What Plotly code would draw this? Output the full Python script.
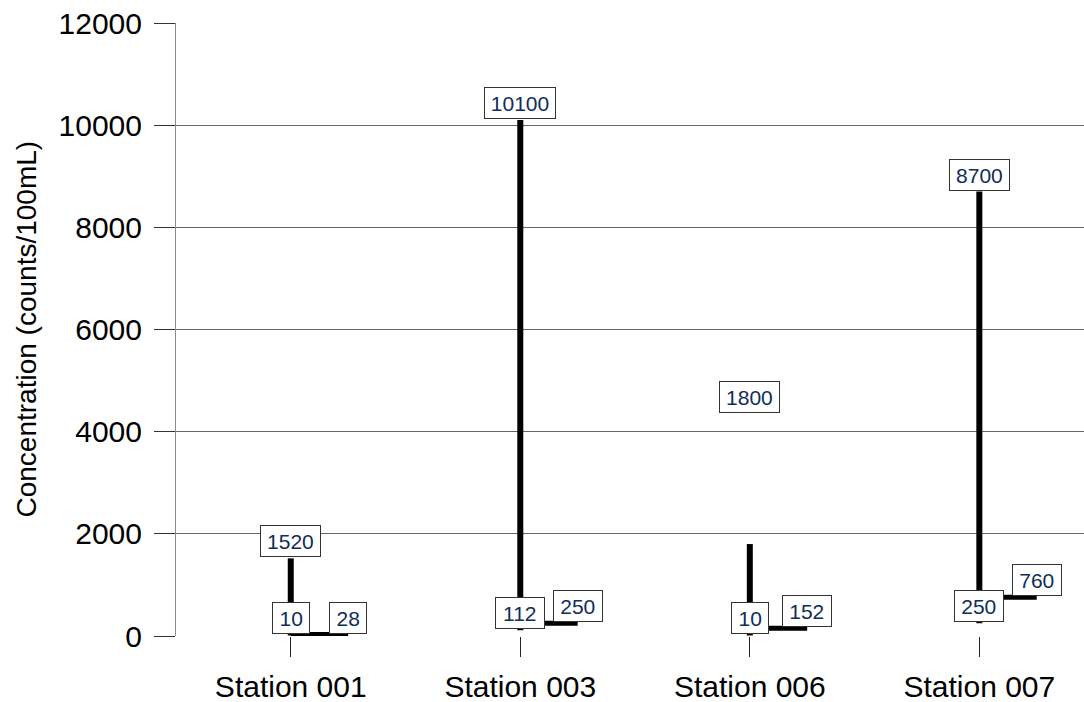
import plotly.graph_objects as go

# Bacteria concentration range per sampling station
stations = ["Station 001", "Station 003", "Station 006", "Station 007"]
max_vals = [1520, 10100, 1800, 8700]
min_vals = [10, 112, 10, 250]
geomean_vals = [28, 250, 152, 760]

# y-axis ticks
y_ticks = [0, 2000, 4000, 6000, 8000, 10000, 12000]
y_tick_text = ["0", "2000", "4000", "6000", "8000", "10000", "12000"]

# extra vertical offset (px) for individual max labels
max_label_shift = [0, 0, 130, 0]

FONT = "Arial, 'Liberation Sans', sans-serif"
LABEL_COLOR = "#0f2d5a"
TICK_OFFSET = 0.25  # length of the right-hand geomean tick, in category units

xs = list(range(len(stations)))

# vertical min-max bars
vx, vy = [], []
for i, lo, hi in zip(xs, min_vals, max_vals):
    vx += [i, i, None]
    vy += [lo, hi, None]

# horizontal geomean ticks
hx, hy = [], []
for i, g in zip(xs, geomean_vals):
    hx += [i, i + TICK_OFFSET, None]
    hy += [g, g, None]

fig = go.Figure()
fig.add_trace(go.Scatter(x=vx, y=vy, mode="lines",
                         line=dict(color="black", width=6),
                         hoverinfo="skip", showlegend=False))
fig.add_trace(go.Scatter(x=hx, y=hy, mode="lines",
                         line=dict(color="black", width=5),
                         hoverinfo="skip", showlegend=False))


def box_label(x, y, value, yshift=1):
    text = str(value)
    fig.add_annotation(
        x=x, y=y, xref="x", yref="y", text=text, showarrow=False,
        xanchor="center", yanchor="bottom", yshift=yshift,
        width=11.2 * len(text) + 12, height=28, borderpad=1,
        bgcolor="white", bordercolor="#333333", borderwidth=1,
        font=dict(family=FONT, size=21, color=LABEL_COLOR),
    )


for i in xs:
    box_label(i, max_vals[i], max_vals[i], 1 + max_label_shift[i])
    box_label(i, min_vals[i], min_vals[i])
    box_label(i + TICK_OFFSET, geomean_vals[i], geomean_vals[i])

fig.add_annotation(
    xref="paper", yref="paper", x=0, y=0.5, xshift=-150,
    text="Concentration (counts/100mL)", showarrow=False, textangle=-90,
    xanchor="center", yanchor="middle",
    font=dict(family=FONT, size=28, color="black"),
)

fig.update_layout(
    width=1084, height=702,
    margin=dict(l=176, r=0, t=23, b=66),
    paper_bgcolor="white", plot_bgcolor="white",
    font=dict(family=FONT, color="black"),
    xaxis=dict(
        range=[-0.5, 3.456], tickmode="array", tickvals=xs, ticktext=stations,
        showgrid=False, zeroline=False, showline=False,
        ticks="outside", ticklen=20, tickcolor="#222222", tickwidth=1,
        ticklabelstandoff=4,
        tickfont=dict(family=FONT, size=30, color="black"),
    ),
    yaxis=dict(
        range=[0, 12000], tickmode="array",
        tickvals=y_ticks, ticktext=y_tick_text,
        showgrid=True, gridcolor="#666666", gridwidth=1, zeroline=False,
        showline=True, linecolor="#8a8a8a", linewidth=1,
        ticks="outside", ticklen=21, tickcolor="#333333", tickwidth=1,
        ticklabelstandoff=6,
        tickfont=dict(family=FONT, size=30, color="black"),
    ),
)

fig.write_html("out.html")
